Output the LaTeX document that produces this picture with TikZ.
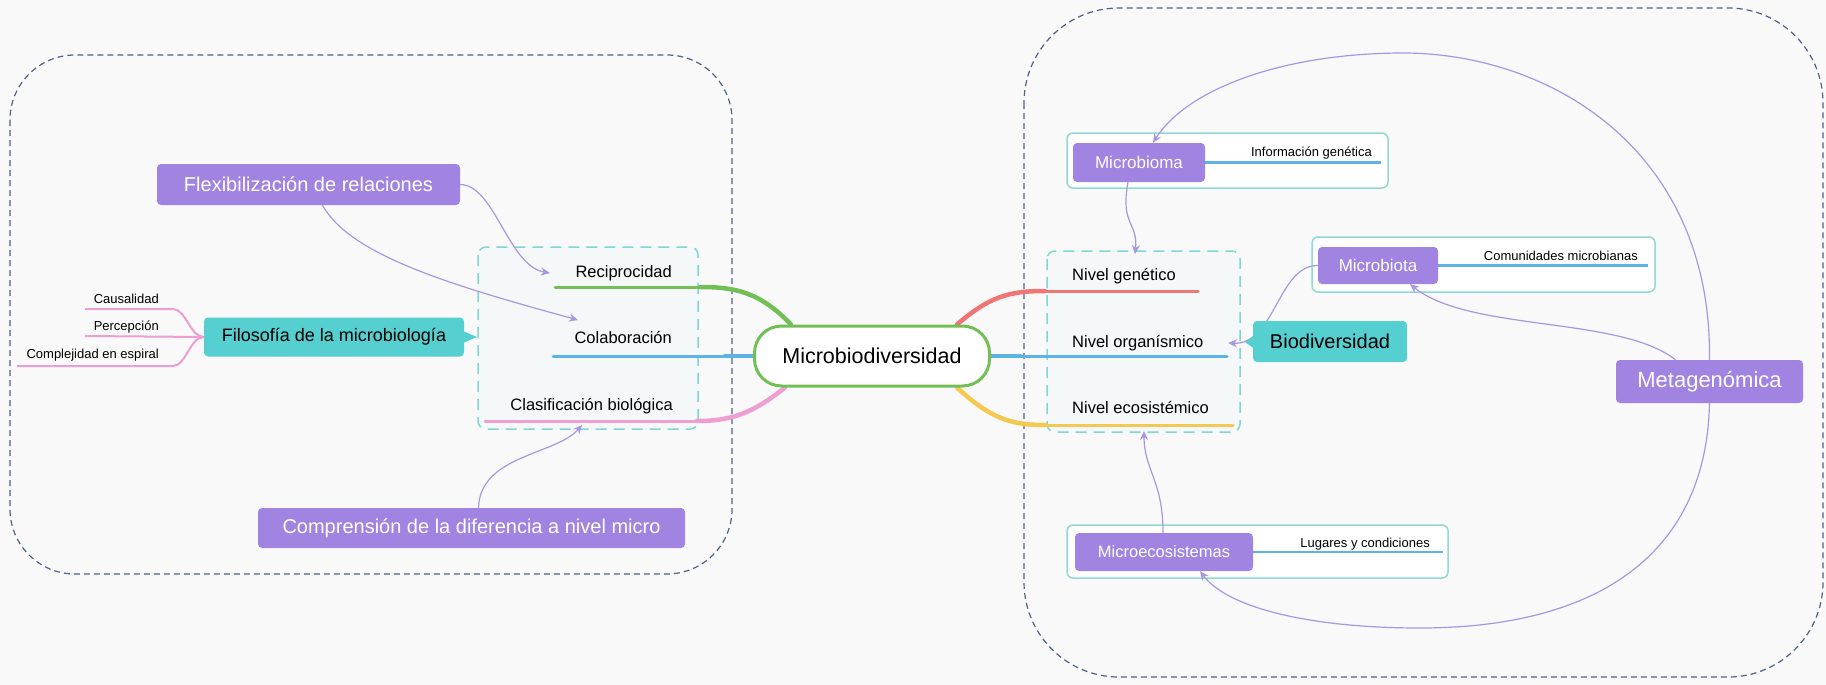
\documentclass[tikz,border=0pt]{standalone}
\usepackage{fontspec}
\setmainfont{Liberation Sans}
\usetikzlibrary{arrows.meta}

\definecolor{bgc}{HTML}{F9F9FA}
\definecolor{framec}{HTML}{50608A}
\definecolor{tealdash}{HTML}{7FD6D3}
\definecolor{tealfill}{HTML}{F4F8F8}
\definecolor{groupc}{HTML}{8FDAD6}
\definecolor{purp}{HTML}{A183E2}
\definecolor{tealc}{HTML}{55CFCF}
\definecolor{relc}{HTML}{A897E0}
\definecolor{brgreen}{HTML}{74BE56}
\definecolor{brblue}{HTML}{5BB3E6}
\definecolor{brpink}{HTML}{EE9ED0}
\definecolor{brred}{HTML}{F07575}
\definecolor{bryellow}{HTML}{F5C94F}

\newcommand\setfs[1]{\fontsize{#1}{#1}\selectfont}

\pgfdeclarelayer{back}
\pgfdeclarelayer{lines}
\pgfsetlayers{back,lines,main}

\begin{document}
\begin{tikzpicture}[x=1pt,y=-1pt,
  topicbox/.style={rounded corners=4pt, inner sep=0pt, fill=purp, text=white},
  tealbox/.style={rounded corners=4pt, inner sep=0pt, fill=tealc, text=black},
  lbl/.style={inner sep=0pt, text=black},
  rel/.style={draw=relc, line width=1.2pt, -{Stealth[length=9pt,width=8pt]}},
  branch/.style={line width=3pt, line cap=round},
  thickbranch/.style={line width=4.5pt, line cap=round},
  sub/.style={line width=2pt, draw=brpink},
  infoline/.style={line width=2.5pt, draw=brblue},
  bigframe/.style={draw=framec, line width=1.2pt, dash pattern=on 6pt off 4pt},
  groupdash/.style={draw=tealdash, fill=tealfill, line width=1.5pt, dash pattern=on 11pt off 7pt, rounded corners=8pt},
  groupframe/.style={draw=groupc, fill=white, line width=1.5pt, rounded corners=6pt},
]
\useasboundingbox (0,0) rectangle (1826,685);

\begin{pgfonlayer}{back}
  \fill[bgc] (0,0) rectangle (1826,685);
  % large dashed regions
  \draw[bigframe, rounded corners=65pt] (10,55) rectangle (732,574);
  \draw[bigframe, rounded corners=95pt] (1024,8) rectangle (1823,677);
  % dashed groups of subtopics
  \draw[groupdash] (478,247) rectangle (698,429);
  \draw[groupdash] (1047,251) rectangle (1240,432);
  % frames around the detail topics
  \draw[groupframe] (1067,133) rectangle (1388,188);
  \draw[groupframe] (1312,237) rectangle (1655,292);
  \draw[groupframe] (1067,525) rectangle (1448,578);
\end{pgfonlayer}

% central topic
\node[draw=brgreen, line width=3pt, fill=white, rounded corners=27pt,
      minimum width=235pt, minimum height=60pt, inner sep=0pt,
      font=\setfs{21.5}] (mb) at (872,356) {Microbiodiversidad};

% left subtopics
\node[lbl, anchor=base east, font=\setfs{16.5}] (recip) at (672,277) {Reciprocidad};
\node[lbl, anchor=base east, font=\setfs{16.5}] (colab) at (672,343) {Colaboración};
\node[lbl, anchor=base east, font=\setfs{16.5}] (clasif) at (673,410) {Clasificación biológica};
\coordinate (recipEnd) at (555,287);
\coordinate (colabEnd) at (553,356);
\coordinate (clasifEnd) at (485,421);

% right subtopics
\node[lbl, anchor=base west, font=\setfs{16.5}] (ngen) at (1072,280) {Nivel genético};
\node[lbl, anchor=base west, font=\setfs{16.5}] (norg) at (1072,347) {Nivel organísmico};
\node[lbl, anchor=base west, font=\setfs{16.5}] (neco) at (1072,413) {Nivel ecosistémico};
\coordinate (ngenEnd) at (1198,291);
\coordinate (norgEnd) at (1227,356);
\coordinate (necoEnd) at (1233,425);

% floating topics
\node[topicbox, minimum width=303pt, minimum height=41pt, font=\setfs{20}] (flex) at (308.5,184.5) {Flexibilización de relaciones};
\node[topicbox, minimum width=427pt, minimum height=40pt, font=\setfs{20}] (compr) at (471.5,528) {Comprensión de la diferencia a nivel micro};
\node[tealbox, minimum width=260pt, minimum height=39pt, font=\setfs{18}] (filo) at (334,337) {Filosofía de la microbiología};
\node[tealbox, minimum width=154pt, minimum height=41pt, font=\setfs{20}] (biod) at (1330,341.5) {Biodiversidad};
\node[topicbox, minimum width=187pt, minimum height=43pt, font=\setfs{22}] (meta) at (1709.5,381.5) {Metagenómica};
\node[topicbox, minimum width=132pt, minimum height=39pt, font=\setfs{17}] (mbioma) at (1139,162.5) {Microbioma};
\node[topicbox, minimum width=120pt, minimum height=37pt, font=\setfs{17}] (mbiota) at (1378,265.5) {Microbiota};
\node[topicbox, minimum width=178pt, minimum height=38pt, font=\setfs{16.5}] (mecos) at (1164,552) {Microecosistemas};

% callout pointers
\fill[tealc] (463,331) -- (477,337) -- (463,343) -- cycle;
\fill[tealc] (1254,335.5) -- (1245,342) -- (1254,348.5) -- cycle;

% small labels
\node[lbl, anchor=base east, font=\setfs{13}] (caus) at (159,303) {Causalidad};
\node[lbl, anchor=base east, font=\setfs{13}] (perc) at (159,330) {Percepción};
\node[lbl, anchor=base east, font=\setfs{13}] (compl) at (159,358) {Complejidad en espiral};
\coordinate (causEnd) at (85,309);
\coordinate (percEnd) at (85,336);
\coordinate (complEnd) at (17,366);

\node[lbl, anchor=base east, font=\setfs{13}] (info) at (1372,156) {Información genética};
\node[lbl, anchor=base east, font=\setfs{13}] (comu) at (1638,260) {Comunidades microbianas};
\node[lbl, anchor=base east, font=\setfs{13}] (luga) at (1430,547) {Lugares y condiciones};
\coordinate (infoEnd) at (1381,162.5);
\coordinate (comuEnd) at (1648,265.5);
\coordinate (lugaEnd) at (1443,552);

% arrow targets
\coordinate (recipTip) at (550,273);
\coordinate (colabTip) at (578,320);
\coordinate (clasifTip) at (582,425);
\coordinate (ngenTip) at (1135,254);
\coordinate (norgTip) at (1228,343);
\coordinate (necoTip) at (1144,431);

\begin{pgfonlayer}{lines}
  % branches of the central topic (thicker near the centre)
  \draw[thickbranch, brgreen] ([xshift=38]mb.north west) .. controls (760,292) and (735,287) .. (700,287);
  \draw[branch, brgreen] (700,287) -- (recipEnd);
  \draw[thickbranch, brblue] (mb.west) -- (725,356);
  \draw[branch, brblue] (mb.west) -- (colabEnd);
  \draw[thickbranch, brpink] ([xshift=32]mb.south west) .. controls (752,414) and (730,421) .. (697,421);
  \draw[branch, brpink] (697,421) -- (clasifEnd);
  \draw[thickbranch, brred] ([xshift=-34]mb.north east) .. controls (990,296) and (1010,291) .. (1045,291);
  \draw[branch, brred] (1045,291) -- (ngenEnd);
  \draw[thickbranch, brblue] (mb.east) -- (1020,356);
  \draw[branch, brblue] (mb.east) -- (norgEnd);
  \draw[thickbranch, bryellow] ([xshift=-34]mb.south east) .. controls (990,418) and (1010,425) .. (1045,425);
  \draw[branch, bryellow] (1045,425) -- (necoEnd);

  % branches of the philosophy topic
  \draw[sub] (filo.west) .. controls (190,337) and (186,309) .. (173,309) -- (causEnd);
  \draw[sub] (filo.west) -- (percEnd);
  \draw[sub] (filo.west) .. controls (190,337) and (186,366) .. (173,366) -- (complEnd);

  % detail lines
  \draw[infoline] (mbioma.east) -- (infoEnd);
  \draw[infoline] (mbiota.east) -- (comuEnd);
  \draw[infoline] (mecos.east) -- (lugaEnd);

  % relationships
  \draw[rel] (flex.east) .. controls (495,185) and (508,266) .. (recipTip);
  \draw[rel] ([xshift=14]flex.south) .. controls (350,255) and (450,285) .. (colabTip);
  \draw[rel] ([xshift=7]compr.north) .. controls (480,455) and (556,455) .. (clasifTip);
  \draw[rel] ([xshift=-11]mbioma.south) .. controls (1120,225) and (1138,222) .. (ngenTip);
  \draw[rel] (mbiota.west) .. controls (1278,265) and (1275,345) .. (norgTip);
  \draw[rel] ([xshift=-1]mecos.north) .. controls (1163,480) and (1144,470) .. (necoTip);
  \draw[rel] (meta.north) .. controls (1712,150) and (1550,52) .. (1400,53)
             .. controls (1275,54) and (1185,92) .. ([xshift=14]mbioma.north);
  \draw[rel] (meta.south) .. controls (1706,560) and (1590,628) .. (1420,628)
             .. controls (1310,628) and (1228,608) .. ([xshift=36]mecos.south);
  \draw[rel] ([xshift=-34]meta.north) .. controls (1620,316) and (1470,332) .. ([xshift=32]mbiota.south);
\end{pgfonlayer}
\end{tikzpicture}
\end{document}
